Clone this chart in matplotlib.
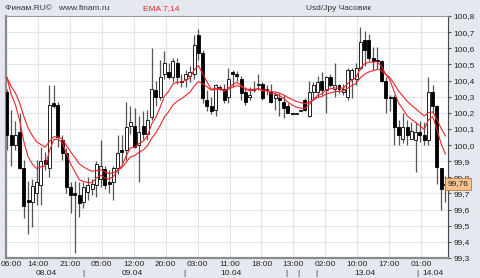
import matplotlib.pyplot as plt
import matplotlib.transforms as mtransforms
import numpy as np

# hourly USD/JPY candles
opens = [100.33, 100.06, 100.00, 100.08, 99.86, 99.66, 99.65, 99.70, 99.75, 99.91,
         99.855, 100.26, 100.25, 100.03, 99.95, 99.74, 99.70, 99.69, 99.65, 99.71,
         99.73, 99.75, 99.79, 99.85, 99.77, 99.77, 99.855, 99.97, 99.97, 100.12,
         100.12, 100.00, 100.12, 100.07, 100.175, 100.34,
         100.30, 100.44, 100.455, 100.42, 100.51, 100.40, 100.41, 100.43, 100.44, 100.68,
         100.57, 100.28, 100.24, 100.22, 100.36, 100.35, 100.30, 100.45, 100.44, 100.41,
         100.33, 100.30, 100.34, 100.37, 100.38, 100.35, 100.33, 100.29, 100.29, 100.27,
         100.24, 100.20, 100.195, 100.21, 100.28, 100.18, 100.33,
         100.33, 100.40, 100.34, 100.42, 100.35, 100.37, 100.33, 100.30, 100.41, 100.41,
         100.475, 100.65, 100.65, 100.54, 100.53, 100.52, 100.40, 100.30, 100.30, 100.11,
         100.04, 100.11, 100.04, 100.03, 100.08, 100.06, 100.03, 100.33, 100.24,
         99.86, 99.75]
highs = [100.35, 100.22, 100.15, 100.20, 99.91, 99.78, 99.79, 99.91, 99.99, 99.96,
         100.37, 100.37, 100.27, 100.06, 99.98, 99.77, 99.78, 99.77, 99.77, 99.80,
         99.79, 99.90, 100.03, 99.87, 99.845, 99.87, 100.06, 100.06, 100.27, 100.24,
         100.23, 100.18, 100.21, 100.22, 100.60, 100.40,
         100.53, 100.58, 100.51, 100.54, 100.54, 100.44, 100.465, 100.49, 100.68, 100.72,
         100.59, 100.34, 100.30, 100.38, 100.37, 100.38, 100.475, 100.465, 100.46, 100.43,
         100.36, 100.36, 100.40, 100.44, 100.39, 100.37, 100.38, 100.33, 100.32, 100.31,
         100.26, 100.20, 100.20, 100.22, 100.29, 100.40, 100.39,
         100.43, 100.455, 100.43, 100.44, 100.51, 100.38, 100.38, 100.475, 100.475, 100.51,
         100.73, 100.71, 100.69, 100.61, 100.61, 100.53, 100.42, 100.31, 100.31, 100.155,
         100.20, 100.155, 100.145, 100.145, 100.15, 100.14, 100.42, 100.37, 100.25,
         99.86, 99.81]
lows = [99.97, 99.87, 99.97, 99.85, 99.55, 99.45, 99.49, 99.63, 99.63, 99.845,
        99.80, 100.23, 99.99, 99.91, 99.70, 99.58, 99.33, 99.555, 99.61, 99.66,
        99.69, 99.68, 99.74, 99.73, 99.70, 99.66, 99.82, 99.89, 99.91, 100.07,
        99.98, 99.77, 100.04, 100.03, 100.155, 100.24,
        100.28, 100.41, 100.41, 100.39, 100.38, 100.36, 100.36, 100.39, 100.41, 100.53,
        100.26, 100.21, 100.19, 100.18, 100.34, 100.26, 100.26, 100.36, 100.40, 100.28,
        100.25, 100.28, 100.33, 100.34, 100.28, 100.31, 100.26, 100.22, 100.18, 100.165,
        100.20, 100.195, 100.195, 100.21, 100.21, 100.175, 100.28,
        100.30, 100.31, 100.20, 100.36, 100.30, 100.32, 100.31, 100.28, 100.29, 100.37,
        100.465, 100.49, 100.52, 100.465, 100.47, 100.39, 100.20, 100.21, 100.00, 100.00,
        100.01, 100.00, 100.04, 99.835, 100.02, 100.00, 100.00, 100.19, 99.76,
        99.60, 99.65]
closes = [100.06, 100.00, 100.06, 99.86, 99.62, 99.65, 99.745, 99.77, 99.90, 99.88,
          100.25, 100.24, 100.05, 99.95, 99.74, 99.69, 99.69, 99.64, 99.74, 99.75,
          99.76, 99.88, 99.87, 99.75, 99.76, 99.855, 99.95, 99.96, 100.11, 100.14,
          99.99, 100.08, 100.07, 100.155, 100.35, 100.30,
          100.42, 100.51, 100.42, 100.52, 100.42, 100.39, 100.44, 100.455, 100.62, 100.57,
          100.29, 100.24, 100.21, 100.37, 100.35, 100.28, 100.41, 100.44, 100.43, 100.32,
          100.27, 100.31, 100.35, 100.38, 100.29, 100.34, 100.27, 100.31, 100.28, 100.23,
          100.20, 100.195, 100.195, 100.21, 100.22, 100.33, 100.37,
          100.39, 100.34, 100.42, 100.37, 100.37, 100.35, 100.35, 100.465, 100.465, 100.475,
          100.64, 100.59, 100.54, 100.52, 100.52, 100.40, 100.29, 100.29, 100.11, 100.06,
          100.11, 100.06, 100.09, 100.08, 100.06, 100.03, 100.33, 100.24, 99.865,
          99.73, 99.76]
ema_start = 100.42  # both EMAs at the first candle (seeded from earlier history)

time_labels = ["06:00", "14:00", "21:00", "05:00", "12:00", "20:00", "03:00",
               "11:00", "18:00", "13:00", "02:00", "10:00", "17:00", "01:00"]
date_labels = ["08.04", "|", "09.04", "|", "10.04", "|", "|", "|", "13.04", "|", "14.04"]
date_idx = [9.35, 17.9, 29.5, 41.65, 52.6, 65.7, 68.5, 72.6, 84.1, 96.4, 100.0]

FONT = "Liberation Sans"
BG = "#e4e9f0"
GRID = "#dfe5ed"

def ema(values, n, start):
    a = 2.0 / (n + 1)
    out = [start]
    for v in values[1:]:
        out.append(out[-1] + a * (v - out[-1]))
    return out

o, h, l, c = map(np.array, (opens, highs, lows, closes))
x = np.arange(len(c))

plt.rc("font", family=FONT, size=6)
fig = plt.figure(figsize=(4.8, 2.78), dpi=100, facecolor=BG)
ax = fig.add_axes([6 / 480, 1 - 258 / 278, 442 / 480, 242 / 278])
ax.set_facecolor("white")

ax.vlines(x, l, h, color="#555555", lw=0.9, zorder=2)
up = c >= o
body_bot = np.minimum(o, c)
body_h = np.maximum(np.abs(c - o), 0.006)
ax.bar(x[up], body_h[up], bottom=body_bot[up], width=0.7, color="white",
       edgecolor="black", lw=0.6, zorder=3)
ax.bar(x[~up], body_h[~up], bottom=body_bot[~up], width=0.7, color="black",
       edgecolor="black", lw=0.6, zorder=3)

ax.plot(x, ema(closes, 7, ema_start), color="#e8262a", lw=0.8, zorder=4)
ax.plot(x, ema(closes, 14, ema_start), color="#e8262a", lw=0.8, zorder=4)

ax.set_xlim(-0.2, 103.6)
ax.set_ylim(99.3, 100.8)
yt = np.round(np.arange(99.3, 100.81, 0.1), 1)
ax.set_yticks(yt)
ax.set_yticklabels([f"{v:.1f}".replace(".", ",") for v in yt])
ax.yaxis.tick_right()
ax.set_xticks(np.arange(len(time_labels)) * 7.5 - 0.2)
# first label sits at the very left edge, drawn separately so it stays in the picture
ax.set_xticklabels([""] + time_labels[1:])
ax.tick_params(axis="x", length=0, pad=2, colors="#222222")
ax.tick_params(axis="y", length=2, pad=2, colors="#222222", color="#555555")
ax.grid(True, color=GRID, lw=0.8, zorder=0)
ax.set_axisbelow(True)
for side in ("left", "bottom"):
    ax.spines[side].set_color("#8a8a8a")
    ax.spines[side].set_linewidth(1.6)
ax.spines["top"].set_color("#9a9a9a")
ax.spines["right"].set_color("#444444")

trans = mtransforms.blended_transform_factory(ax.transData, ax.transAxes)
for lab, xi in zip(date_labels, date_idx):
    ax.text(xi, -0.066, lab, transform=trans, ha="center", va="center",
            color="#222222", clip_on=False)
fig.text(1 / 480, 1 - 264 / 278, time_labels[0], ha="left", va="center", color="#222222")

# last price tag
ytrans = mtransforms.blended_transform_factory(ax.transAxes, ax.transData)
ax.text(1.0, closes[-1], f"{closes[-1]:.2f}".replace(".", ","), transform=ytrans,
        ha="left", va="center", color="#222222", zorder=6, clip_on=False,
        bbox=dict(boxstyle="square,pad=0.3", fc="#f8c18e", ec="#c07a40", lw=0.6))

fig.text(5 / 480, 1 - 9 / 278, "Финам.RU©   www.finam.ru", ha="left", va="center",
         color="#333333")
fig.text(143 / 480, 1 - 9 / 278, "EMA 7,14", ha="left", va="center", color="#e8262a")
fig.text(338 / 480, 1 - 9 / 278, "Usd/Jpy Часовик", ha="center", va="center",
         color="#333333")

fig.savefig("out.png", dpi=100, facecolor=BG)
